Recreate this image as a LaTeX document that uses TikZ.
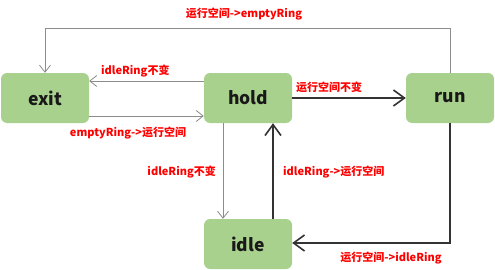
\documentclass[tikz,border=0pt]{standalone}
\usepackage{fontspec}
\setmainfont{Noto Sans CJK SC}
\usetikzlibrary{arrows.meta}
\definecolor{boxgreen}{HTML}{A9D18E}
\definecolor{lblred}{HTML}{FF0000}
\definecolor{thin}{HTML}{8C8C8C}
\definecolor{thick}{HTML}{333333}
\tikzset{
  state/.style={fill=boxgreen, draw=none, rounded corners=6pt, minimum width=88pt, minimum height=50pt, inner sep=0pt, font=\fontsize{17.5}{17.5}\selectfont\bfseries, text=black!90},
  lbl/.style={font=\fontsize{11}{11}\selectfont\bfseries, text=lblred, inner sep=0pt},
  thinline/.style={draw=thin, line width=0.8pt, -{Straight Barb[length=7pt,width=11pt,line width=0.8pt]}},
  thickline/.style={draw=thick, line width=1.8pt, -{Straight Barb[length=11pt,width=16pt,line width=1.6pt]}}
}
\begin{document}
\begin{tikzpicture}[x=1pt,y=-1pt]
\useasboundingbox (0,0) rectangle (495,270);
\node[state] (exit) at (45,98) {exit};
\node[state] (hold) at (248,98) {hold};
\node[state] (run) at (450,98) {run};
\node[state] (idle) at (248,244) {idle};
\coordinate (tl) at (45,28);
\coordinate (tr) at (450,28);
\coordinate (br) at (450,243);
% run -> exit
\draw[thinline] (run.north) -- (tr) -- (tl) -- (exit.north);
\node[lbl] (l1) at (244,14) {运行空间->emptyRing};
% hold -> exit
\draw[thinline] (hold.west |- 0,81) -- (exit.east |- 0,81);
\node[lbl, anchor=west] (l2) at (101,71) {idleRing不变};
% exit -> hold
\draw[thinline] (exit.east |- 0,116) -- (hold.west |- 0,116);
\node[lbl] (l3) at (128,133) {emptyRing->运行空间};
% hold -> run
\draw[thickline] (hold.east) -- (run.west);
\node[lbl, anchor=west] (l4) at (296,87) {运行空间不变};
% hold -> idle
\draw[thinline] (hold.south -| 223,0) -- (idle.north -| 223,0);
\node[lbl, anchor=east] (l5) at (216,172) {idleRing不变};
% idle -> hold
\draw[thickline] (idle.north -| 273,0) -- (hold.south -| 273,0);
\node[lbl, anchor=west] (l6) at (283,172) {idleRing->运行空间};
% run -> idle
\draw[thickline] (run.south) -- (br) -- (idle.east |- br);
\node[lbl] (l7) at (391,258) {运行空间->idleRing};
\end{tikzpicture}
\end{document}
